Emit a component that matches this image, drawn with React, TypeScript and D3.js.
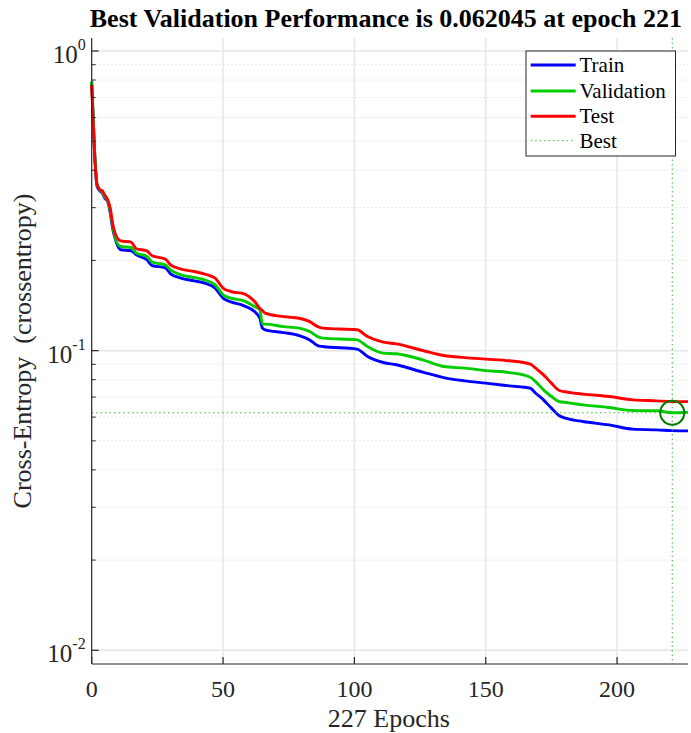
import React from "react";
import * as d3 from "d3";

const epochs = [0,1,2,3,4,5,6,7,8,9,11,15,17,21,23,28,30,34,39,43,47,50,53,58,62,64,65,66,73,79,83,86,88,101,105,111,116,126,134,142,150,159,167,169,172,175,178,181,187,197,206,215,221,227];
const trainPerf = [0.79,0.48,0.355,0.342,0.336,0.322,0.316,0.29,0.255,0.235,0.2171,0.2154,0.2089,0.2010,0.1923,0.1890,0.1805,0.1746,0.1710,0.1680,0.1617,0.1497,0.1455,0.1411,0.1350,0.1283,0.1189,0.1174,0.1149,0.1123,0.1086,0.1040,0.1032,0.1012,0.0956,0.0913,0.0897,0.0848,0.0813,0.0793,0.0779,0.0763,0.0749,0.0721,0.0685,0.0643,0.0606,0.0593,0.0580,0.0565,0.0547,0.0544,0.0541,0.0540];
const valPerf = [0.79,0.48,0.36,0.345,0.338,0.325,0.318,0.295,0.26,0.238,0.2226,0.2209,0.2116,0.2062,0.1975,0.1934,0.1861,0.1791,0.1754,0.1723,0.1658,0.1536,0.1497,0.1466,0.1403,0.137,0.1226,0.1226,0.1203,0.1189,0.1158,0.1114,0.1101,0.1086,0.1032,0.0981,0.0976,0.0932,0.0885,0.0874,0.0858,0.0845,0.0815,0.0788,0.0740,0.0703,0.0676,0.0671,0.0659,0.0646,0.0631,0.0630,0.062045,0.0623];
const testPerf = [0.77,0.47,0.36,0.345,0.342,0.33,0.32,0.30,0.265,0.245,0.2326,0.2302,0.2188,0.2154,0.2073,0.2021,0.1934,0.1871,0.1837,0.1801,0.1746,0.1617,0.1575,0.1547,0.1458,0.1386,0.136,0.1334,0.1299,0.1283,0.1250,0.1203,0.1189,0.1174,0.1114,0.1067,0.1053,0.1001,0.0963,0.0948,0.0937,0.0925,0.0902,0.0874,0.0830,0.0779,0.0736,0.0727,0.0716,0.0703,0.0685,0.0680,0.0676,0.0676];
const bestEpoch = 221;
const bestPerf = 0.062045;
const numEpochs = 227;
const xTicks = [0, 50, 100, 150, 200];
const yMajor = [1, 0.1, 0.01];
const yMajorExp = ["0", "-1", "-2"];
const legendLabels = ["Train", "Validation", "Test", "Best"];

const W = 691, H = 733;
const L = 91.7, R = 688, T = 38, B = 664;
const FONT = "'Liberation Serif', 'Times New Roman', serif";

export default function App() {
  const x = d3.scaleLinear().domain([0, numEpochs]).range([L, R]);
  const y = d3.scaleLog().domain([0.009, 1.105]).range([B, T]);

  const minor: number[] = [];
  for (const d of [0.01, 0.1, 1]) {
    for (let k = 2; k <= 9; k++) {
      const v = d * k;
      if (v <= 1.105 && v >= 0.009) minor.push(v);
    }
  }

  const mk = (vals: number[]) =>
    d3.line<number>().x((_, i) => x(epochs[i])).y((v) => y(v)).curve(d3.curveMonotoneX)(vals) as string;

  const series = [
    { vals: trainPerf, color: "#0000ff" },
    { vals: valPerf, color: "#00cc00" },
    { vals: testPerf, color: "#ff0000" },
  ];

  const legColors = ["#0000ff", "#00cc00", "#ff0000"];
  const legRows = [65, 91, 116.3, 140.7];

  return (
    <svg width={W} height={H} style={{ position: "absolute", left: 0, top: 0, background: "#fff" }}>
      <rect x={0} y={0} width={W} height={H} fill="#fff" />
      {minor.map((v, i) => (
        <line key={"mg" + i} x1={L} x2={R} y1={y(v)} y2={y(v)} stroke="#cfcfcf" strokeWidth={1} strokeDasharray="1,3" />
      ))}
      {yMajor.map((v, i) => (
        <line key={"Mg" + i} x1={L} x2={R} y1={y(v)} y2={y(v)} stroke="#e6e6e6" strokeWidth={1.5} />
      ))}
      {xTicks.filter((t) => t > 0).map((t, i) => (
        <line key={"xg" + i} x1={x(t)} x2={x(t)} y1={T} y2={B} stroke="#e6e6e6" strokeWidth={1.5} />
      ))}
      {series.map((s, i) => (
        <path key={"s" + i} d={mk(s.vals)} fill="none" stroke={s.color} strokeWidth={2.9} strokeLinejoin="round" />
      ))}
      <line x1={x(bestEpoch)} x2={x(bestEpoch)} y1={T} y2={B} stroke="#33bb33" strokeWidth={1} strokeDasharray="1.5,3" />
      <line x1={L} x2={R} y1={y(bestPerf)} y2={y(bestPerf)} stroke="#33bb33" strokeWidth={1} strokeDasharray="1.5,3" />
      <circle cx={x(bestEpoch)} cy={y(bestPerf)} r={12} fill="none" stroke="#007a00" strokeWidth={2} />
      <line x1={L} x2={L} y1={T} y2={B} stroke="#262626" strokeWidth={1.2} />
      <line x1={L} x2={R} y1={B} y2={B} stroke="#262626" strokeWidth={1.2} />
      {yMajor.map((v, i) => (
        <line key={"yt" + i} x1={L} x2={L + 7} y1={y(v)} y2={y(v)} stroke="#262626" strokeWidth={1.2} />
      ))}
      {minor.map((v, i) => (
        <line key={"ymt" + i} x1={L} x2={L + 4} y1={y(v)} y2={y(v)} stroke="#262626" strokeWidth={1} />
      ))}
      {xTicks.map((t, i) => (
        <line key={"xt" + i} x1={x(t)} x2={x(t)} y1={B} y2={B - 7} stroke="#262626" strokeWidth={1.2} />
      ))}
      {xTicks.map((t, i) => (
        <text key={"xl" + i} x={x(t)} y={697} textAnchor="middle" fontFamily={FONT} fontSize={24} fill="#262626">{t}</text>
      ))}
      {yMajor.map((v, i) => (
        <text key={"yl" + i} x={L - 6} y={y(v) + 12} textAnchor="end" fontFamily={FONT} fontSize={25} fill="#262626">
          10<tspan dy={-13} fontSize={16}>{yMajorExp[i]}</tspan>
        </text>
      ))}
      <text x={(L + R) / 2 - 1} y={727} textAnchor="middle" fontFamily={FONT} fontSize={26} fill="#262626">227 Epochs</text>
      <text transform={`translate(31, ${(T + B) / 2}) rotate(-90)`} textAnchor="middle" fontFamily={FONT} fontSize={26} fill="#262626" style={{ whiteSpace: "pre" }}>
        {"Cross-Entropy  (crossentropy)"}
      </text>
      <text x={(L + R) / 2 - 4} y={27} textAnchor="middle" fontFamily={FONT} fontSize={26} fontWeight="bold" fill="#000">
        Best Validation Performance is 0.062045 at epoch 221
      </text>
      <rect x={526} y={51} width={149.5} height={105} fill="#fff" stroke="#262626" strokeWidth={1} />
      {legendLabels.map((lab, i) => (
        <g key={"lg" + i}>
          {i < 3 ? (
            <line x1={530.7} x2={575.7} y1={legRows[i]} y2={legRows[i]} stroke={legColors[i]} strokeWidth={2.9} />
          ) : (
            <line x1={530.7} x2={575.7} y1={legRows[i]} y2={legRows[i]} stroke="#33bb33" strokeWidth={1} strokeDasharray="1.5,3" />
          )}
          <text x={579.5} y={legRows[i] + 7} fontFamily={FONT} fontSize={21} fill="#000">{lab}</text>
        </g>
      ))}
    </svg>
  );
}
